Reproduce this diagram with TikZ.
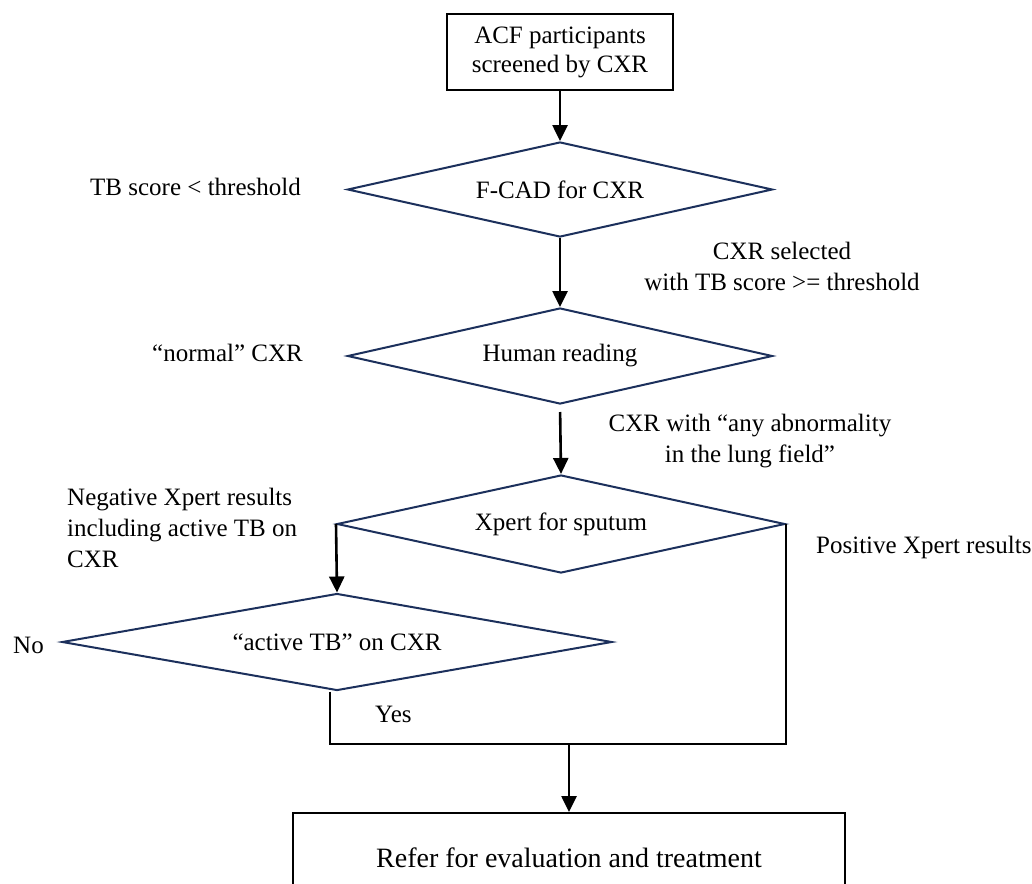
\documentclass[tikz,border=0pt]{standalone}
\usepackage{fontspec}
\setmainfont{Liberation Serif}
\usetikzlibrary{shapes.geometric,arrows.meta}
\definecolor{dnavy}{RGB}{28,48,92}
\begin{document}
\begin{tikzpicture}[x=1pt,y=-1pt,
  box/.style={draw=black, line width=2pt, inner sep=0pt, align=center, font=\fontsize{25}{29}\selectfont},
  dia/.style={diamond, draw=dnavy, line width=2pt, inner sep=2pt, shape aspect=4.5, font=\fontsize{25}{31}\selectfont},
  lbl/.style={inner sep=0pt, font=\fontsize{25}{31}\selectfont},
  conn/.style={line width=2.6pt, draw=black},
  arr/.style={conn, -{Triangle[width=15pt,length=16pt]}}]
\useasboundingbox (0,0) rectangle (1032,883);
\clip (0,0) rectangle (1032,883);
\fill[white] (0,0) rectangle (1032,883);

\node[box, minimum width=226pt, minimum height=76pt] (start) at (560,52) {ACF participants\\screened by CXR};
\node[dia, minimum width=425pt, minimum height=95pt] (fcad) at (560,189.5) {F-CAD for CXR};
\node[dia, minimum width=425pt, minimum height=96pt] (human) at (560,356) {Human reading};
\node[dia, minimum width=448pt, minimum height=98pt] (xpert) at (561,524) {Xpert for sputum};
\node[dia, minimum width=550pt, minimum height=97pt] (active) at (337,642) {“active TB” on CXR};
\node[box, minimum width=552pt, minimum height=90pt, anchor=north, font=\fontsize{28}{32}\selectfont] (refer) at (569,812) {Refer for evaluation and treatment};

\coordinate (j) at (569,744);
\draw[arr] (start.south) -- (fcad.north);
\draw[arr] (fcad.south) -- (human.north);
\draw[arr, shorten <=7pt] (human.south) -- (xpert.north);
\draw[arr] (xpert.west) -- (active.north);
\draw[conn] ([xshift=-7pt]active.south) |- (j);
\draw[conn] (xpert.east) |- (j);
\draw[arr] (j) -- (refer.north);

\node[lbl, anchor=base west] (lscore) at (90,195) {TB score < threshold};
\node[lbl, anchor=base, align=center] (lsel) at (782,290) {CXR selected\\with TB score >= threshold};
\node[lbl, anchor=base west] (lnorm) at (152,361) {“normal” CXR};
\node[lbl, anchor=base, align=center] (labn) at (750,462) {CXR with “any abnormality\\in the lung field”};
\node[lbl, anchor=base west, align=left] (lneg) at (67,567) {Negative Xpert results\\including active TB on\\CXR};
\node[lbl, anchor=base west] (lpos) at (816,553) {Positive Xpert results};
\node[lbl, anchor=base west] (lno) at (13,653) {No};
\node[lbl, anchor=base west] (lyes) at (375,722) {Yes};
\end{tikzpicture}
\end{document}
